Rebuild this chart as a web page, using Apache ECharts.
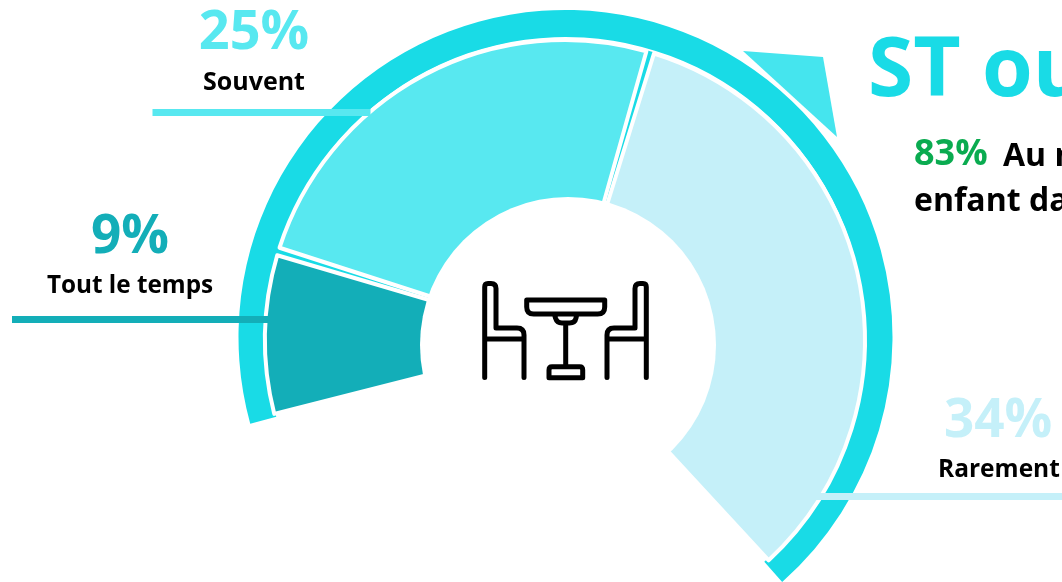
<!DOCTYPE html>
<html><head><meta charset="utf-8">
<style>html,body{margin:0;padding:0;background:#fff;overflow:hidden}#c{width:1062px;height:582px}</style>
<script src="https://cdn.jsdelivr.net/npm/echarts@6/dist/echarts.min.js"></script>
</head><body><div id="c"></div>
<script>
const categories = ['Tout le temps', 'Souvent', 'Rarement'];
const shares = [9, 25, 34];
const colors = ['#13aeb8', '#58e8f0', '#c5f0f9'];
const ringColor = '#19dbe6';
const font = '"Open Sans", sans-serif';
const iconData = 'M484.7 377.5L484.7 287Q484.7 283.5 488 283.5L491 283.5Q496 283.5 496 288.5L496 328L517 328Q524 328 524 335L524 377.5M484.7 339L524 339'
  + 'M646.3 377.5L646.3 287Q646.3 283.5 643 283.5L640 283.5Q635 283.5 635 288.5L635 328L614 328Q607 328 607 335L607 377.5M646.3 339L607 339'
  + 'M526.7 300L604.7 300L604.7 307Q604.7 314 597.7 314L533.7 314Q526.7 314 526.7 307Z'
  + 'M554.7 315L555.5 318Q557 323 562 323L569.5 323Q575 323 576 318L576.7 315M565.7 323L565.7 366'
  + 'M552 366.7L579.7 366.7Q582.7 366.7 582.7 370L582.7 377.7L549 377.7L549 370Q549 366.7 552 366.7Z';

echarts.graphic.registerShape('tableIcon', echarts.graphic.extendPath(iconData, {}));

function txt(text, x, y, size, fill, align) {
  return {type:'text', z:20, style:{text, x, y:y+size*0.2, fontFamily:font, fontWeight:'bold', fontSize:size, fill, align:align||'left', verticalAlign:'bottom'}};
}
function bar(x, y, w, h, fill) {
  return {type:'rect', z:15, shape:{x, y, width:w, height:h}, style:{fill}};
}
const total = shares.reduce((a,b)=>a+b,0);

const chart = echarts.init(document.getElementById('c'), null, {renderer:'canvas'});
chart.setOption({
  animation:false,
  backgroundColor:'#fff',
  series:[
    {type:'pie', silent:true, z:1, center:[565.5,337], radius:[300,327], startAngle:195.4, endAngle:-48.5, clockwise:true,
     label:{show:false}, labelLine:{show:false},
     data:[{name:'Total', value:total, itemStyle:{color:ringColor}}]},
    {type:'pie', silent:true, z:1, center:[565,340], radius:[100,301], startAngle:194.2, endAngle:-47.2, clockwise:true,
     label:{show:false}, labelLine:{show:false},
     data:[{name:'Total', value:total, itemStyle:{color:ringColor}}]},
    {type:'pie', silent:true, z:2, center:[565,340], radius:[100,300], startAngle:195, endAngle:-48, clockwise:true,
     padAngle:1.5, label:{show:false}, labelLine:{show:false},
     itemStyle:{borderColor:'#fff', borderWidth:4},
     data:categories.map((name,i)=>({name, value:shares[i], itemStyle:{color:colors[i]}}))}
  ],
  graphic:[
    {type:'circle', z:10, shape:{cx:568, cy:345, r:148}, style:{fill:'#fff'}},
    bar(152.5,109,218,7,colors[1]),
    bar(12,316,256,7,colors[0]),
    bar(813,493,249,7,colors[2]),
    {type:'polygon', z:15, shape:{points:[[743,51],[823,57],[837,137]]}, style:{fill:'#45e5ee'}},
    txt('ST ou', 868, 97, 82, ringColor),
    txt('83%', 914, 166, 36, '#0aab50'),
    txt('Au moins un', 1003, 166, 32, '#000'),
    txt('enfant dans', 914, 211, 32, '#000'),
    txt(shares[1]+'%', 254, 50, 54, colors[1], 'center'),
    txt(categories[1], 254, 90, 25, '#000', 'center'),
    txt(shares[0]+'%', 130, 254, 53, colors[0], 'center'),
    txt(categories[0], 130, 293, 24.3, '#000', 'center'),
    txt(shares[2]+'%', 944, 438, 53, colors[2]),
    txt(categories[2], 938, 478, 24.5, '#000'),
    {type:'tableIcon', z:20, shape:{}, style:{fill:'none', stroke:'#000', lineWidth:5, lineCap:'round', lineJoin:'round'}}
  ]
});
</script></body></html>
